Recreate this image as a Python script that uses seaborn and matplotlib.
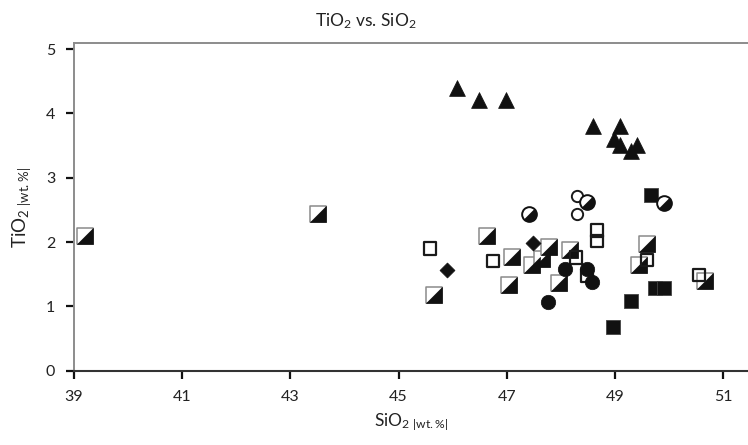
import numpy as np
import pandas as pd
import matplotlib
matplotlib.use("Agg")
import matplotlib.pyplot as plt
from matplotlib.path import Path
import seaborn as sns

# ---- data ----
tri_x = [46.08, 46.48, 46.98, 48.59, 49.09, 48.98, 49.09, 49.40, 49.30]
tri_y = [4.40, 4.21, 4.21, 3.81, 3.81, 3.60, 3.51, 3.51, 3.42]

fsq_x = [49.67, 49.29, 49.74, 49.91, 48.96]
fsq_y = [2.73, 1.08, 1.28, 1.28, 0.68]

fci_x = [48.07, 48.48, 48.57, 47.76]
fci_y = [1.58, 1.58, 1.38, 1.07]

dia_x = [45.89, 47.49]
dia_y = [1.57, 1.98]

osq_x = [45.58, 46.74, 48.67, 48.67, 48.28, 48.49, 49.59, 50.56]
osq_y = [1.90, 1.70, 2.18, 2.02, 1.76, 1.48, 1.72, 1.49]

hsq_x = [39.20, 43.51, 46.64, 45.65, 47.09, 47.05, 47.47, 47.65, 47.78,
         48.17, 47.97, 49.59, 49.44, 50.67]
hsq_y = [2.09, 2.44, 2.09, 1.17, 1.76, 1.34, 1.64, 1.73, 1.92,
         1.87, 1.36, 1.97, 1.64, 1.40]

hci_x = [47.41, 48.48, 49.91]
hci_y = [2.43, 2.63, 2.61]

oci_x = [48.30, 48.30]
oci_y = [2.71, 2.44]

x_ticks = [39, 41, 43, 45, 47, 49, 51]
y_ticks = [0, 1, 2, 3, 4, 5]
title = r"TiO$_2$ vs. SiO$_2$"
xlabel = r"SiO$_{2\ |wt.\%|}$"
ylabel = r"TiO$_{2\ |wt.\%|}$"

# ---- style ----
sns.set_theme(style="white")
plt.rcParams["font.family"] = ["Lato", "DejaVu Sans"]
plt.rcParams["mathtext.fontset"] = "custom"
plt.rcParams["mathtext.rm"] = "Lato"
plt.rcParams["mathtext.default"] = "regular"

fig = plt.figure(figsize=(7.48, 4.45), dpi=100)
ax = fig.add_axes([74 / 748, 74.3 / 445, 674 / 748, (370.7 - 43.3) / 445])

# custom half-markers (lower-right half black)
half_sq = Path([(-1, -1), (1, -1), (1, 1), (-1, -1)],
               [Path.MOVETO, Path.LINETO, Path.LINETO, Path.CLOSEPOLY])
half_ci = Path.wedge(-135, 45)

blk = "#111111"
grey = "#8a8a8a"

def sc(x, y, face, **kw):
    sns.scatterplot(x=x, y=y, ax=ax, legend=False, **kw)
    coll = ax.collections[-1]
    coll.set_facecolor(face)
    return coll

sc(hsq_x, hsq_y, "white", marker="s", s=118, color="white", edgecolor=grey, linewidth=1.1, zorder=3)
sc(hsq_x, hsq_y, blk, marker=half_sq, s=118, color=blk, edgecolor=blk, linewidth=0.5, zorder=3)
sc(osq_x, osq_y, "none", marker="s", s=78, color="white", edgecolor="#1a1a1a", linewidth=1.6, zorder=4)
sc(fsq_x, fsq_y, blk, marker="s", s=100, color=blk, edgecolor="#444444", linewidth=0.6, zorder=4)
sc(fci_x, fci_y, blk, marker="o", s=108, color=blk, edgecolor=blk, linewidth=0.5, zorder=5)
sc(dia_x, dia_y, blk, marker="D", s=58, color=blk, edgecolor=blk, linewidth=0.5, zorder=5)
sc(tri_x, tri_y, blk, marker="^", s=130, color=blk, edgecolor=blk, linewidth=0.5, zorder=5)
sc(oci_x, oci_y, "white", marker="o", s=66, color="white", edgecolor="#1a1a1a", linewidth=1.4, zorder=5)
sc(hci_x, hci_y, "white", marker="o", s=112, color="white", edgecolor=blk, linewidth=1.4, zorder=6)
sc(hci_x, hci_y, blk, marker=half_ci, s=112, color=blk, edgecolor=blk, linewidth=0.5, zorder=6)

ax.set_xlim(39, 51.46)
ax.set_ylim(0, 5.09)
ax.set_xticks(x_ticks)
ax.set_yticks(y_ticks)
ax.set_xticklabels([str(t) for t in x_ticks])
ax.set_yticklabels([str(t) for t in y_ticks])
ax.tick_params(axis="both", which="major", direction="out", length=6,
               width=1.6, color="#111111", labelsize=11.5, labelcolor="#222222")
ax.tick_params(axis="y", pad=7.5, left=True)
ax.tick_params(axis="x", pad=8, bottom=True)

for side in ["left", "top"]:
    ax.spines[side].set_color("#8c8c8c")
    ax.spines[side].set_linewidth(1.4)
ax.spines["bottom"].set_color("#333333")
ax.spines["bottom"].set_linewidth(1.5)
ax.spines["right"].set_visible(False)
ax.grid(False)

ax.set_xlabel(xlabel, fontsize=12.5, color="#222222", labelpad=5)
ax.set_ylabel(ylabel, fontsize=13.5, color="#222222", labelpad=9.5)
fig.text(366 / 748, 1 - 21 / 445, title, ha="center", va="center", fontsize=12.5, color="#222222")

fig.savefig("out.png", dpi=100)
